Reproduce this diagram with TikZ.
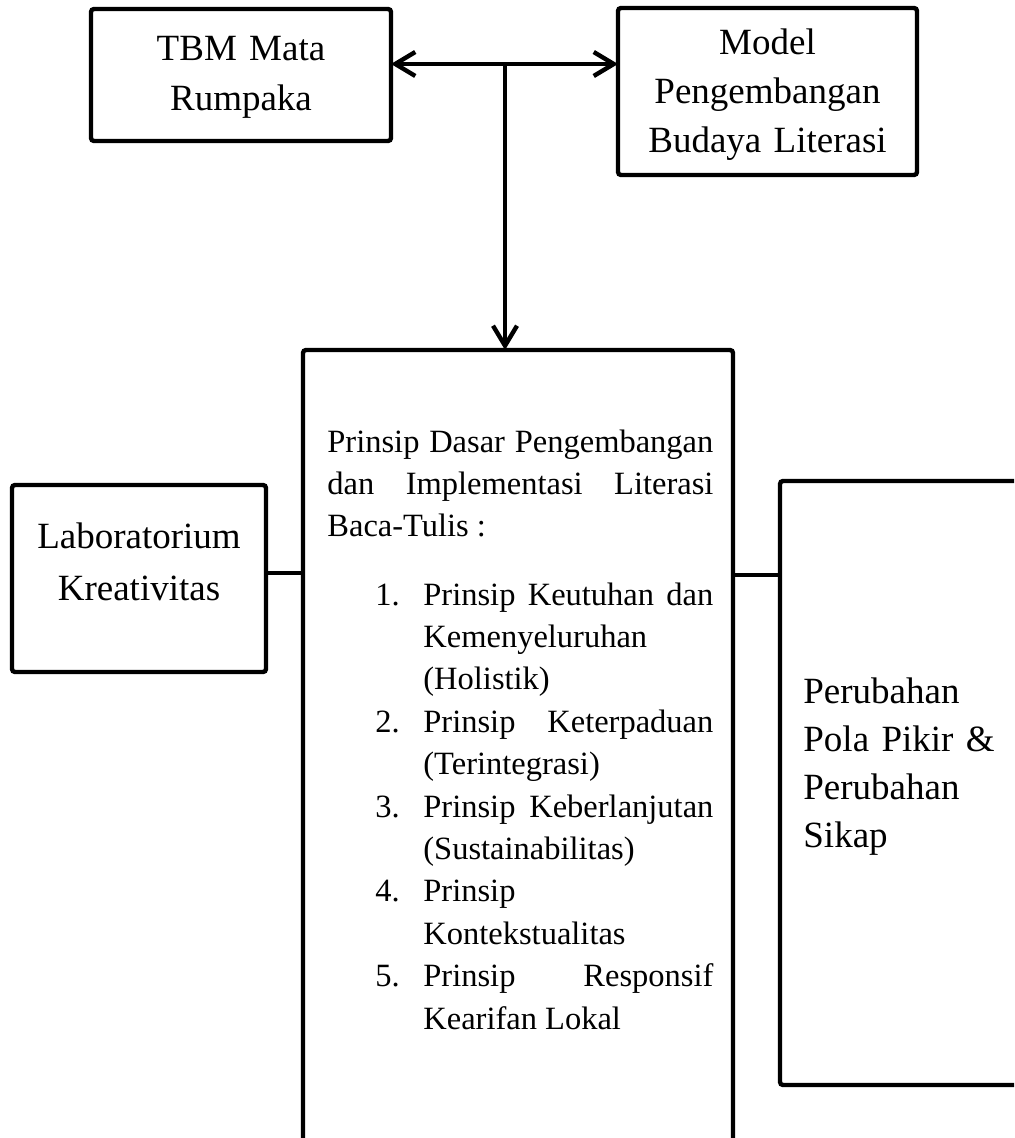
\documentclass[tikz,border=0pt]{standalone}
\usepackage{fontspec}
\setmainfont{Liberation Serif}
\usepackage{tikz}
\usetikzlibrary{arrows.meta,positioning}
\hyphenpenalty=10000
\exhyphenpenalty=10000
\tolerance=10000
\newenvironment{prlist}{\begin{list}{\arabic{enumi}.}{\usecounter{enumi}%
  \setlength\leftmargin{48pt}\setlength\labelwidth{24pt}\setlength\labelsep{0pt}%
  \setlength\itemindent{0pt}\setlength\topsep{12.9pt}\setlength\partopsep{0pt}%
  \setlength\itemsep{0pt}\setlength\parsep{0pt}\renewcommand\makelabel[1]{##1\hfil}}}%
  {\end{list}}
\tikzset{
  ar/.style={-{Straight Barb[length=10pt,width=12pt]},line width=2.2pt},
  dar/.style={{Straight Barb[length=10pt,width=12pt]}-{Straight Barb[length=10pt,width=12pt]},line width=2.2pt},
  ln/.style={line width=2.2pt},
  box/.style={draw,line width=2.2pt,rounded corners=1.5pt,inner sep=0pt,outer sep=0pt},
  txt/.style={inner sep=0pt,anchor=base,align=center,text width=150pt}
}
\newcommand{\bigf}[1]{\fontsize{18.5}{#1}\selectfont}

\begin{document}
\begin{tikzpicture}[x=0.5pt,y=-0.5pt]
\useasboundingbox (0,0) rectangle (1014,1138);
\clip (0,0) rectangle (1014,1138);
% boxes
\node[box,minimum width=150pt,minimum height=66pt] (tbm) at (241,75) {};
\node[box,minimum width=149.5pt,minimum height=83.5pt] (model) at (767.5,91.5) {};
\node[box,minimum width=127pt,minimum height=93.5pt] (lab) at (139,578.5) {};
\node[box,minimum width=215pt,minimum height=450pt] (prinsip) at (518,800) {};
\node[box,minimum width=210pt,minimum height=302pt] (ubah) at (990,783) {};
% texts
\node[txt,font=\bigf{25pt}] (tbmtx) at (241,61) {TBM Mata\\Rumpaka};
\node[txt,font=\bigf{24.5pt}] (modeltx) at (767.5,55) {Model\\Pengembangan\\Budaya Literasi};
\node[txt,font=\bigf{26pt}] (labtx) at (139,548) {Laboratorium\\Kreativitas};
\node[txt,font=\bigf{24pt},align=left,anchor=base west,text width=100pt] (ubahtx) at (803,703) {Perubahan\\Pola Pikir \&\\Perubahan\\Sikap};
\node[inner sep=0pt,anchor=base west,text width=193pt,align=justify,
  font=\fontsize{16.25}{21.2}\selectfont] (prinsiptx) at (327,452) {%
Prinsip Dasar Pengembangan\linebreak dan Implementasi Literasi\linebreak Baca-Tulis~:
\begin{prlist}
\item Prinsip Keutuhan dan\linebreak Kemenyeluruhan\linebreak (Holistik)
\item Prinsip Keterpaduan\linebreak (Terintegrasi)
\item Prinsip Keberlanjutan\linebreak (Sustainabilitas)
\item Prinsip\linebreak Kontekstualitas
\item Prinsip Responsif\linebreak Kearifan Lokal
\end{prlist}};
% connectors
\coordinate (hub) at (505,64);
\coordinate (lj) at (285,573);
\coordinate (rj) at (757,575);
\draw[dar] (tbm.east |- hub) -- (model.west |- hub);
\draw[ar] (hub) -- (hub |- prinsip.north);
\draw[ln] (lab.east |- lj) -- (prinsip.west |- lj);
\draw[ln] (prinsip.east |- rj) -- (ubah.west |- rj);
\end{tikzpicture}
\end{document}
